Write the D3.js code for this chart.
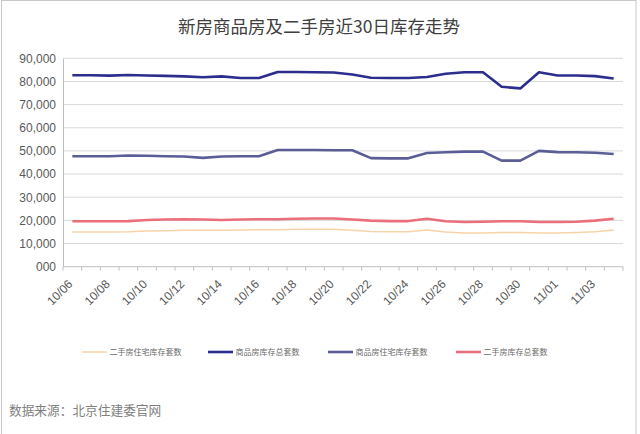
<!DOCTYPE html>
<html><head><meta charset="utf-8">
<script src="https://cdn.jsdelivr.net/npm/d3@7"></script>
<style>body{margin:0;background:#fff}svg{display:block}</style>
</head><body>
<svg id="c" width="640" height="434"></svg>
<script>
const dates = ["10/06","10/07","10/08","10/09","10/10","10/11","10/12","10/13","10/14","10/15","10/16","10/17","10/18","10/19","10/20","10/21","10/22","10/23","10/24","10/25","10/26","10/27","10/28","10/29","10/30","10/31","11/01","11/02","11/03","11/04"];
const secondHandResidential = [15000,15000,15000,15100,15400,15500,15700,15700,15700,15900,16000,16000,16200,16200,16200,15700,15200,15100,15100,15900,15000,14600,14600,14800,14800,14600,14600,14800,15100,15900];
const newTotal = [82700,82700,82500,82800,82600,82400,82200,81800,82200,81500,81500,84100,84100,84000,83900,83000,81600,81500,81500,81900,83300,84000,84000,77700,77000,84000,82600,82600,82300,81300];
const newResidential = [47700,47700,47700,48000,47900,47700,47600,47000,47600,47700,47700,50400,50400,50400,50300,50300,46900,46800,46800,49100,49400,49700,49700,45800,45800,50000,49500,49400,49200,48700];
const secondHandTotal = [19600,19600,19600,19700,20200,20400,20500,20400,20200,20400,20500,20500,20700,20800,20800,20400,19900,19700,19700,20700,19600,19300,19400,19600,19600,19300,19300,19400,19900,20700];
const yTicks = [0,10000,20000,30000,40000,50000,60000,70000,80000,90000];
const seriesNames = ["二手房住宅库存套数","商品房库存总套数","商品房住宅库存套数","二手房库存总套数"];
const title = "新房商品房及二手房近30日库存走势";
const source = "数据来源：北京住建委官网";

(function(){
const series = [
  {name: seriesNames[0], values: secondHandResidential, color: "#f7d3a9", w: 1.5},
  {name: seriesNames[1], values: newTotal, color: "#2b2e8d", w: 2.6},
  {name: seriesNames[2], values: newResidential, color: "#5b5d97", w: 2.6},
  {name: seriesNames[3], values: secondHandTotal, color: "#ea6f7b", w: 2.6}
];

const svg = d3.select("#c");
const pL = 63, pR = 623, pT = 58.3, pB = 266.7;
const font = "'Liberation Sans', Arial, sans-serif";

svg.append("rect").attr("x",1.5).attr("y",0.5).attr("width",634.5).attr("height",440)
  .attr("fill","#fff").attr("stroke","#c8c8c8");

svg.append("text").attr("x",319).attr("y",33).attr("text-anchor","middle")
  .attr("font-family","'Noto Sans CJK SC', sans-serif").attr("font-size",17.5)
  .attr("fill","#404040").text(title);

const x = d3.scaleBand().domain(dates).range([pL, pR]);
const y = d3.scaleLinear().domain([0, 90000]).range([pB, pT]);

svg.append("g").selectAll("line").data(yTicks.filter(d=>d>0)).join("line")
  .attr("x1",pL).attr("x2",pR).attr("y1",d=>y(d)).attr("y2",d=>y(d))
  .attr("stroke","#d9d9d9").attr("stroke-width",1);

const yAxis = svg.append("g").attr("transform",`translate(${pL},0)`)
  .call(d3.axisLeft(y).tickValues(yTicks).tickSize(0).tickPadding(7)
    .tickFormat(d => d === 0 ? "000" : d3.format(",")(d)));
yAxis.select(".domain").attr("stroke","#bfbfbf");
yAxis.selectAll("text").attr("font-family",font).attr("font-size",12).attr("fill","#595959");

const xg = svg.append("g").attr("transform",`translate(0,${pB})`);
xg.append("line").attr("x1",pL).attr("x2",pR).attr("stroke","#bfbfbf");
const boundaries = dates.map(d => x(d)).concat([x(dates[dates.length-1]) + x.bandwidth()]);
xg.selectAll("line.t").data(boundaries).join("line").attr("class","t")
  .attr("x1",d=>d).attr("x2",d=>d).attr("y1",0).attr("y2",4).attr("stroke","#bfbfbf");
xg.selectAll("text").data(dates.filter((d,i)=>i%2===0)).join("text")
  .attr("transform",d=>`translate(${x(d)+x.bandwidth()/2+1},${18}) rotate(-45)`)
  .attr("text-anchor","end").attr("font-family",font).attr("font-size",12)
  .attr("fill","#595959").text(d=>d);

const line = d3.line().x((d,i)=>x(dates[i])+x.bandwidth()/2).y(d=>y(d));
series.forEach(s => {
  svg.append("path").datum(s.values).attr("d",line).attr("fill","none")
    .attr("stroke",s.color).attr("stroke-width",s.w).attr("stroke-linejoin","round");
});

const legendX = [82, 208, 328, 456];
const lg = svg.append("g");
series.forEach((s,i) => {
  lg.append("line").attr("x1",legendX[i]).attr("x2",legendX[i]+25).attr("y1",352).attr("y2",352)
    .attr("stroke",s.color).attr("stroke-width",s.w);
  lg.append("text").attr("x",legendX[i]+27.5).attr("y",355).attr("font-size",8)
    .attr("font-family","'Noto Sans CJK SC', sans-serif").attr("fill","#6a6a6a").text(s.name);
});

svg.append("text").attr("x",9).attr("y",415).attr("font-size",12.7)
  .attr("font-family","'Noto Sans CJK SC', sans-serif").attr("fill","#7f7f7f").text(source);
})();
</script>
</body></html>
